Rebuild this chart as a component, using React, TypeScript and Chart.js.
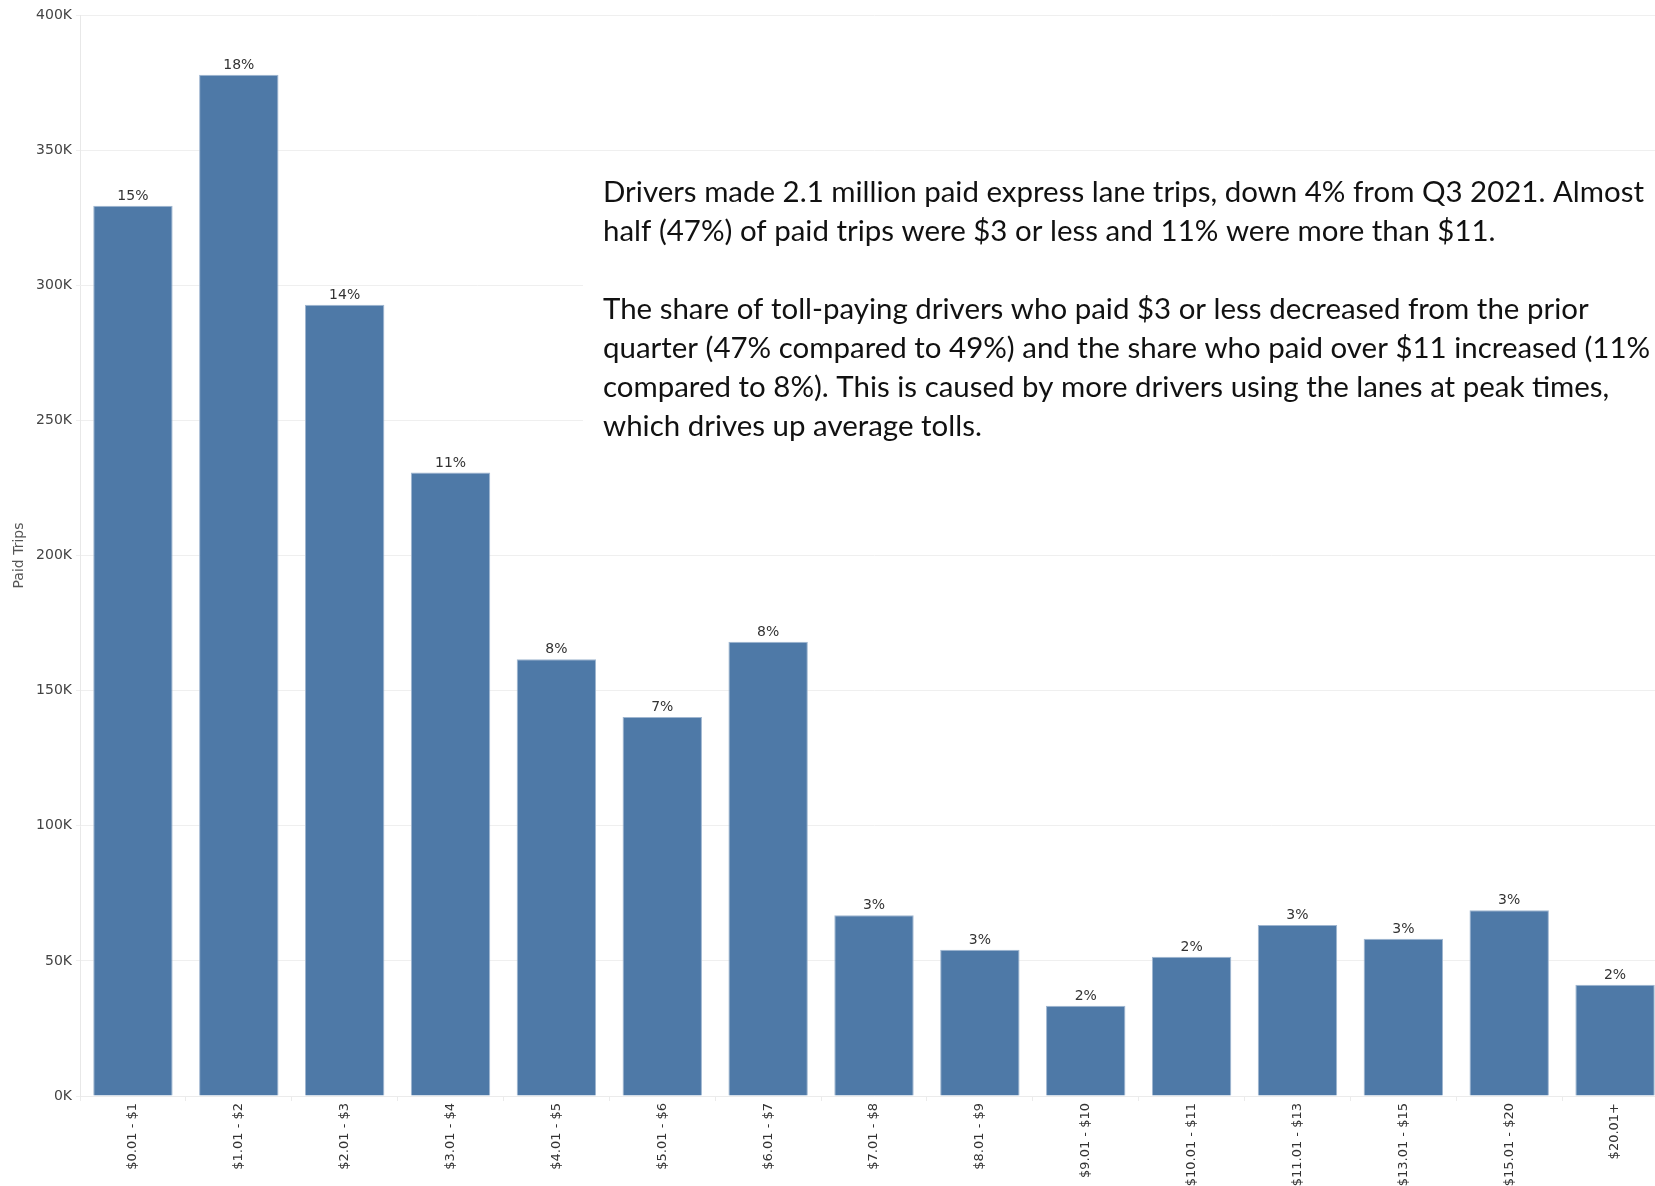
import React, { useEffect, useRef } from "react";
import { Chart, registerables } from "chart.js";

Chart.register(...registerables);

const categories = [
  "$0.01 - $1",
  "$1.01 - $2",
  "$2.01 - $3",
  "$3.01 - $4",
  "$4.01 - $5",
  "$5.01 - $6",
  "$6.01 - $7",
  "$7.01 - $8",
  "$8.01 - $9",
  "$9.01 - $10",
  "$10.01 - $11",
  "$11.01 - $13",
  "$13.01 - $15",
  "$15.01 - $20",
  "$20.01+",
];

const paidTrips = [
  329400, 377900, 292800, 230700, 161600, 140200, 168100, 66900, 54100, 33400,
  51500, 63300, 58200, 68700, 41200,
];

const shareLabels = [
  "15%", "18%", "14%", "11%", "8%", "7%", "8%", "3%", "3%", "2%", "2%", "3%", "3%", "3%", "2%",
];

const yAxisMax = 400000;
const yAxisStep = 50000;

const noteLines = [
  "Drivers made 2.1 million paid express lane trips, down 4% from Q3 2021. Almost",
  "half (47%) of paid trips were $3 or less and 11% were more than $11.",
  "",
  "The share of toll-paying drivers who paid $3 or less decreased from the prior",
  "quarter (47% compared to 49%) and the share who paid over $11 increased (11%",
  "compared to 8%). This is caused by more drivers using the lanes at peak times,",
  "which drives up average tolls.",
];

const TICK_FONT = "'DejaVu Sans', sans-serif";

const barLabelPlugin = {
  id: "barLabels",
  afterDatasetsDraw(chart: any) {
    const ctx = chart.ctx;
    const meta = chart.getDatasetMeta(0);
    ctx.save();
    ctx.font = `14px ${TICK_FONT}`;
    ctx.fillStyle = "#333333";
    ctx.textAlign = "center";
    ctx.textBaseline = "alphabetic";
    meta.data.forEach((el: any, i: number) => {
      ctx.fillText(shareLabels[i], el.x, el.y - 6);
    });
    ctx.restore();
  },
};

const notePlugin = {
  id: "noteBox",
  afterDraw(chart: any) {
    const ctx = chart.ctx;
    ctx.save();
    ctx.fillStyle = "#ffffff";
    ctx.fillRect(583, 158, chart.width - 583, 382);
    ctx.font = "29px Lato, 'Noto Sans', sans-serif";
    ctx.fillStyle = "#111111";
    ctx.textAlign = "left";
    ctx.textBaseline = "alphabetic";
    const targetWidth = 1041;
    const measured = ctx.measureText(noteLines[0]).width;
    const sx = targetWidth / measured;
    const x0 = 603;
    const y0 = 202;
    const lineGap = 39;
    noteLines.forEach((line, i) => {
      if (!line) return;
      ctx.save();
      ctx.translate(x0, y0 + i * lineGap);
      ctx.scale(sx, 1);
      ctx.fillText(line, 0, 0);
      ctx.restore();
    });
    ctx.restore();
  },
};

export default function App() {
  const canvasRef = useRef<HTMLCanvasElement | null>(null);

  useEffect(() => {
    if (!canvasRef.current) return;
    const chart = new Chart(canvasRef.current, {
      type: "bar",
      data: {
        labels: categories,
        datasets: [
          {
            label: "Paid Trips",
            data: paidTrips,
            backgroundColor: "#4e79a7",
            borderColor: "#9fb6d0",
            borderWidth: 1,
            categoryPercentage: 1,
            barPercentage: 0.75,
          },
        ],
      },
      options: {
        animation: false,
        responsive: false,
        maintainAspectRatio: false,
        layout: { padding: { top: 15, right: 2, left: 0, bottom: 0 } },
        plugins: {
          legend: { display: false },
          tooltip: { enabled: false },
        },
        scales: {
          x: {
            offset: true,
            grid: {
              display: true,
              drawOnChartArea: false,
              offset: true,
              tickLength: 5,
              color: "#ebebeb",
            },
            border: { display: true, color: "#ebebeb" },
            ticks: {
              autoSkip: false,
              minRotation: 90,
              maxRotation: 90,
              padding: 2,
              color: "#333333",
              font: { family: TICK_FONT, size: 13 },
            },
            afterFit: (s: any) => {
              s.height = 90;
            },
          },
          y: {
            min: 0,
            max: yAxisMax,
            ticks: {
              stepSize: yAxisStep,
              padding: 4,
              color: "#444444",
              font: { family: TICK_FONT, size: 14 },
              callback: (v: any) => `${Number(v) / 1000}K`,
            },
            grid: { color: "#efefef", tickLength: 4 },
            border: { display: true, color: "#e8e8e8" },
            title: {
              display: true,
              text: "Paid Trips",
              color: "#555555",
              font: { family: TICK_FONT, size: 14 },
              padding: { top: 11, bottom: 0 },
            },
            afterFit: (s: any) => {
              s.width = 80;
            },
          },
        },
      },
      plugins: [barLabelPlugin, notePlugin],
    });
    return () => chart.destroy();
  }, []);

  return (
    <div
      style={{
        position: "absolute",
        left: 0,
        top: 0,
        width: "1655px",
        height: "1186px",
        overflow: "hidden",
        background: "#ffffff",
      }}
    >
      <canvas
        ref={canvasRef}
        width={1670}
        height={1186}
        style={{ width: "1670px", height: "1186px", display: "block" }}
      />
    </div>
  );
}
